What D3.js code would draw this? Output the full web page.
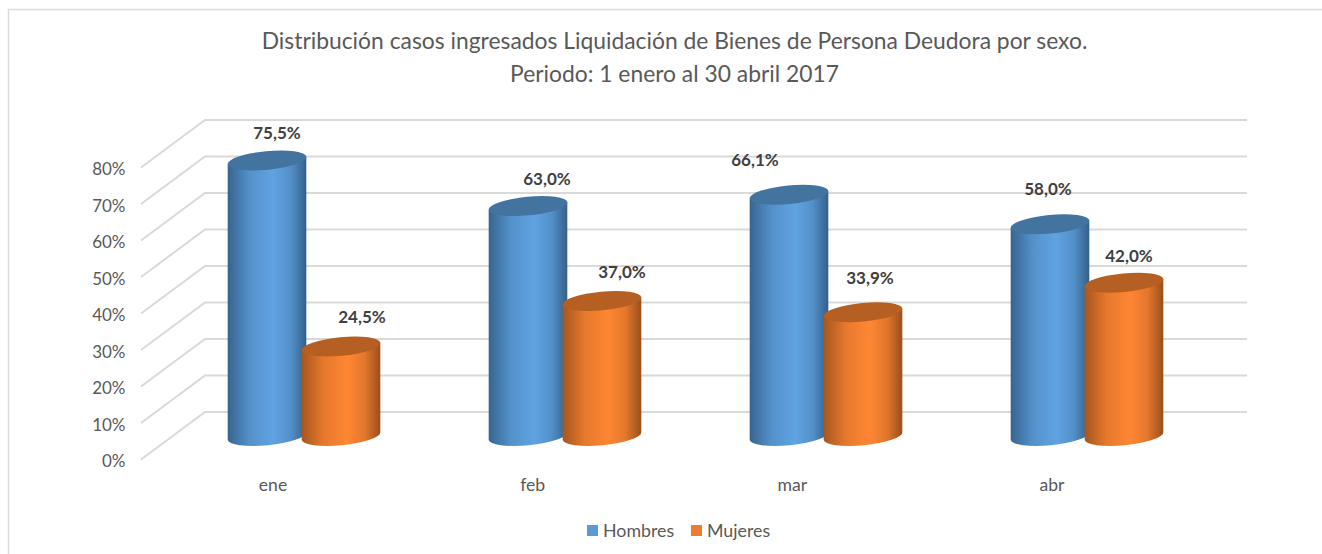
<!DOCTYPE html>
<html>
<head>
<meta charset="utf-8">
<script src="https://cdn.jsdelivr.net/npm/d3@7"></script>
<style>
html,body{margin:0;padding:0;background:#fff;}
svg{display:block;}
text{font-family:Lato,"Open Sans",sans-serif;}
</style>
</head>
<body>
<div id="chart"></div>
<script>
const titleLines = ["Distribución casos ingresados Liquidación de Bienes de Persona Deudora por sexo.", "Periodo: 1 enero al 30 abril 2017"];
const categories = ["ene", "feb", "mar", "abr"];
const seriesNames = ["Hombres", "Mujeres"];
const hombres = [75.5, 63.0, 66.1, 58.0];
const mujeres = [24.5, 37.0, 33.9, 42.0];
const yTicks = [0, 10, 20, 30, 40, 50, 60, 70, 80];
// hand-placed data label nudges, as in the source chart
const hombresLabelNudge = [[10, -27], [19, -27], [-34, -35], [-2, -35]];
const mujeresLabelNudge = [[21, -30], [20, -29], [7, -34], [5, -27]];

const W = 1322, H = 554;
const svg = d3.select("#chart").append("svg").attr("width", W).attr("height", H);
const defs = svg.append("defs");

function gradient(id, edgeL, mid, edgeR) {
  const g = defs.append("linearGradient").attr("id", id).attr("x1", 0).attr("x2", 1).attr("y1", 0).attr("y2", 0);
  [[0, edgeL], [0.28, d3.interpolateRgb(edgeL, mid)(0.72)], [0.58, mid], [0.8, d3.interpolateRgb(edgeR, mid)(0.72)], [1, edgeR]]
    .forEach(([o, c]) => g.append("stop").attr("offset", o).attr("stop-color", c));
}
gradient("gBlue", "#37648f", "#5fa3e2", "#34608a");
gradient("gOrange", "#a6561f", "#ff8633", "#9a4f1b");

// frame
svg.append("path").attr("d", `M8.5,${H}V9.5H${W}`).attr("fill", "none").attr("stroke", "#dcdcdc").attr("stroke-width", 1.5);

// title
svg.append("g").selectAll("text").data(titleLines).join("text")
  .attr("x", 674.5).attr("y", (d, i) => 49 + i * 33)
  .attr("text-anchor", "middle").attr("font-size", 22.85).attr("fill", "#595959").text(d => d);

// scales
const yBack = d3.scaleLinear().domain([0, 80]).range([412, 120]);
const depthY = 47.5, floorX0 = 141, wallX0 = 205, wallX1 = 1247;
const yFront = d3.scaleLinear().domain([0, 80]).range([412 + depthY, 120 + depthY]);
const xCat = d3.scaleBand().domain(categories).range([173.5, 1217.5]).padding(0);
const xSeries = d3.scaleBand().domain(seriesNames).range([-74, 74]).padding(0);
// the axis labels sit on the front edge of the floor, which is slightly narrower in perspective
const xFloor = d3.scalePoint().domain(categories).range([273, 1052]);

// grid
const grid = svg.append("g").attr("fill", "none").attr("stroke", "#d9d9d9").attr("stroke-width", 2);
grid.selectAll("path").data(yTicks).join("path")
  .attr("d", d => `M${floorX0},${yFront(d)}L${wallX0},${yBack(d)}H${wallX1}`);

// y axis labels
const axisG = svg.append("g").attr("transform", "translate(125.5,2)")
  .call(d3.axisLeft(yFront).tickValues(yTicks).tickSize(0).tickPadding(0).tickFormat(d => d + "%"));
axisG.select(".domain").remove();
axisG.selectAll("text").attr("font-size", 17).attr("fill", "#595959").style("font-family", "Lato");

// category labels
svg.append("g").selectAll("text").data(categories).join("text")
  .attr("x", d => xFloor(d)).attr("y", 491)
  .attr("text-anchor", "middle").attr("font-size", 17.6).attr("fill", "#595959").text(d => d);

// cylinders
const rx = 39.5, ry = 9.3, tilt = -5.5, baseOffset = 24;
const cosT = Math.cos(tilt * Math.PI / 180), sinT = Math.sin(tilt * Math.PI / 180);
const rows = [];
categories.forEach((c, i) => {
  rows.push({c, s: seriesNames[0], v: hombres[i], nudge: hombresLabelNudge[i], fill: "url(#gBlue)", cap: "#42749f"});
  rows.push({c, s: seriesNames[1], v: mujeres[i], nudge: mujeresLabelNudge[i], fill: "url(#gOrange)", cap: "#b55f22"});
});
const cx = d => xCat(d.c) + xCat.bandwidth() / 2 + xSeries(d.s) + xSeries.bandwidth() / 2;
const topY = d => yBack(d.v) + baseOffset;
const baseY = yBack(0) + baseOffset;
const bars = svg.append("g").selectAll("g").data(rows).join("g");
bars.append("path").attr("fill", d => d.fill).attr("d", d => {
  const x = cx(d), t = topY(d), dx = rx * cosT, dy = rx * sinT;
  return `M${x - dx},${t - dy}L${x - dx},${baseY - dy}` +
    `A${rx},${ry} ${tilt} 0 0 ${x + dx},${baseY + dy}L${x + dx},${t + dy}Z`;
});
bars.append("ellipse").attr("fill", d => d.cap)
  .attr("rx", rx).attr("ry", ry)
  .attr("transform", d => `translate(${cx(d)},${topY(d)}) rotate(${tilt})`);

// data labels
svg.append("g").selectAll("text").data(rows).join("text")
  .attr("x", d => cx(d) + d.nudge[0]).attr("y", d => topY(d) + d.nudge[1] + 6)
  .attr("text-anchor", "middle").attr("font-size", 17).attr("font-weight", 700).attr("fill", "#404040")
  .text(d => d3.format(".1f")(d.v).replace(".", ",") + "%");

// legend
const legendColor = d3.scaleOrdinal().domain(seriesNames).range(["#5b9bd5", "#ed7d31"]);
const legendX = d3.scaleOrdinal().domain(seriesNames).range([587, 691]);
const leg = svg.append("g").selectAll("g").data(seriesNames).join("g")
  .attr("transform", d => `translate(${legendX(d)},525)`);
leg.append("rect").attr("width", 11).attr("height", 11).attr("fill", d => legendColor(d));
leg.append("text").attr("x", 16).attr("y", 12).attr("font-size", 17.8).attr("fill", "#595959").text(d => d);
</script>
</body>
</html>
